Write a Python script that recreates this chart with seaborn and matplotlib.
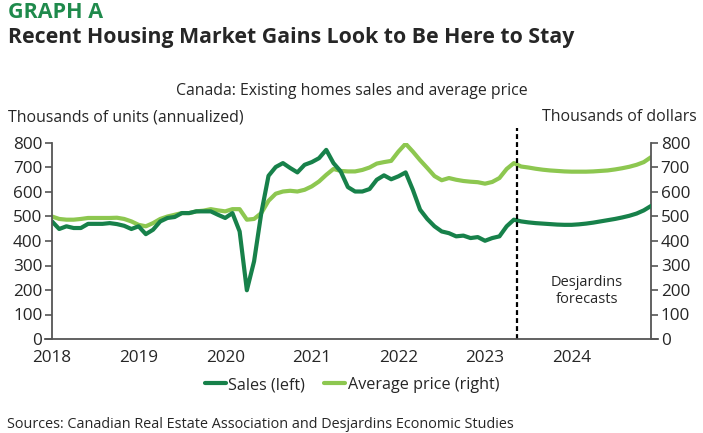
import numpy as np
import pandas as pd
import matplotlib.pyplot as plt
import seaborn as sns

# Monthly data, Jan 2018 - Dec 2024 (Desjardins forecasts from Jul 2023)
sales = [480, 449, 460, 453, 453, 470, 470, 470, 473, 469, 462, 449,
         460, 428, 446, 480, 494, 498, 514, 514, 521, 521, 521, 507,
         494, 514, 439, 199, 317, 514, 666, 702, 718, 698, 680, 711,
         722, 738, 772, 718, 684, 620, 602, 602, 612, 650, 668, 652,
         664, 680, 609, 528, 490, 460, 439, 432, 419, 422, 412, 416,
         401, 412, 419, 460, 487, 480, 476, 473, 471, 469, 467, 466,
         466, 468, 471, 475, 480, 485, 490, 496, 503, 512, 525, 543]
avg_price = [500, 490, 487, 487, 490, 494, 494, 494, 494, 495, 490, 480,
             466, 460, 473, 490, 500, 507, 514, 514, 521, 524, 530, 525,
             521, 530, 530, 487, 490, 514, 564, 593, 602, 605, 602, 609,
             623, 643, 670, 694, 686, 684, 684, 690, 700, 716, 722, 727,
             765, 797, 765, 730, 698, 665, 648, 657, 650, 645, 642, 640,
             634, 641, 657, 694, 718, 704, 700, 695, 691, 688, 686, 684,
             683, 683, 683, 684, 686, 688, 692, 697, 703, 711, 722, 742]
years = ["2018", "2019", "2020", "2021", "2022", "2023", "2024"]
y_ticks = [0, 100, 200, 300, 400, 500, 600, 700, 800]

df = pd.DataFrame({"month": np.arange(len(sales)), "sales": sales, "price": avg_price})

dark = "#17814A"
light = "#8DC750"
axis_col = "#555555"

sns.set_style("white")
plt.rcParams["font.family"] = ["Open Sans", "DejaVu Sans"]

fig = plt.figure(figsize=(7.03, 4.33), dpi=100)
ax = fig.add_axes([52 / 703, 1 - 339 / 433, (651 - 52) / 703, (339 - 143) / 433])
ax2 = ax.twinx()

sns.lineplot(data=df, x="month", y="sales", ax=ax, color=dark, lw=3.0, label="Sales (left)", legend=False)
sns.lineplot(data=df, x="month", y="price", ax=ax2, color=light, lw=3.0, label="Average price (right)", legend=False)
ax.set_zorder(ax2.get_zorder() + 1)
ax.patch.set_visible(False)

for a in (ax, ax2):
    a.set_xlim(0, 83)
    a.set_ylim(0, 800)
    a.set_yticks(y_ticks)
    a.set_xlabel("")
    a.set_ylabel("")
    for s in a.spines.values():
        s.set_visible(False)
    a.tick_params(axis="y", length=5, width=1.2, color=axis_col, labelsize=12.3, pad=2)

ax.spines["left"].set_visible(True)
ax.spines["bottom"].set_visible(True)
ax2.spines["right"].set_visible(True)
for s in (ax.spines["left"], ax.spines["bottom"], ax2.spines["right"]):
    s.set_color(axis_col)
    s.set_linewidth(1.3)
ax.spines["bottom"].set_bounds(-1, 84)

ax.set_xticks(np.arange(0, 84, 12))
ax.set_xticklabels(years)
ax.tick_params(axis="x", length=0, labelsize=12.3, pad=8)
ax.tick_params(axis="y", left=True)
ax2.tick_params(axis="y", right=True)

ax.axvline(64.4, color="black", ls=(0, (2.2, 1.4)), lw=1.6, ymax=1.077, clip_on=False)
ax.text(74.1, 196, "Desjardins\nforecasts", ha="center", va="center", fontsize=10.5, linespacing=1.15)

fig.text(8 / 703, 1 - 13 / 433, "GRAPH A", fontsize=15.5, fontweight="bold", color="#1F8A4C", va="center")
fig.text(8 / 703, 1 - 38 / 433, "Recent Housing Market Gains Look to Be Here to Stay",
         fontsize=15.3, fontweight="bold", va="center")
fig.text(352 / 703, 1 - 91 / 433, "Canada: Existing homes sales and average price", fontsize=11.4, ha="center", va="center")
fig.text(8 / 703, 1 - 117 / 433, "Thousands of units (annualized)", fontsize=11.4, va="center")
fig.text(697 / 703, 1 - 117 / 433, "Thousands of dollars", fontsize=11.4, ha="right", va="center")
fig.text(7 / 703, 1 - 424 / 433, "Sources: Canadian Real Estate Association and Desjardins Economic Studies",
         fontsize=10.4, va="center")

h1, l1 = ax.get_legend_handles_labels()
h2, l2 = ax2.get_legend_handles_labels()
fig.legend(h1 + h2, l1 + l2, loc="center", bbox_to_anchor=(352 / 703, 1 - 385 / 433), ncol=2,
           frameon=False, fontsize=11.6, handlelength=1.3, handletextpad=0.15, columnspacing=1.2)

fig.savefig("out.png", dpi=100)
